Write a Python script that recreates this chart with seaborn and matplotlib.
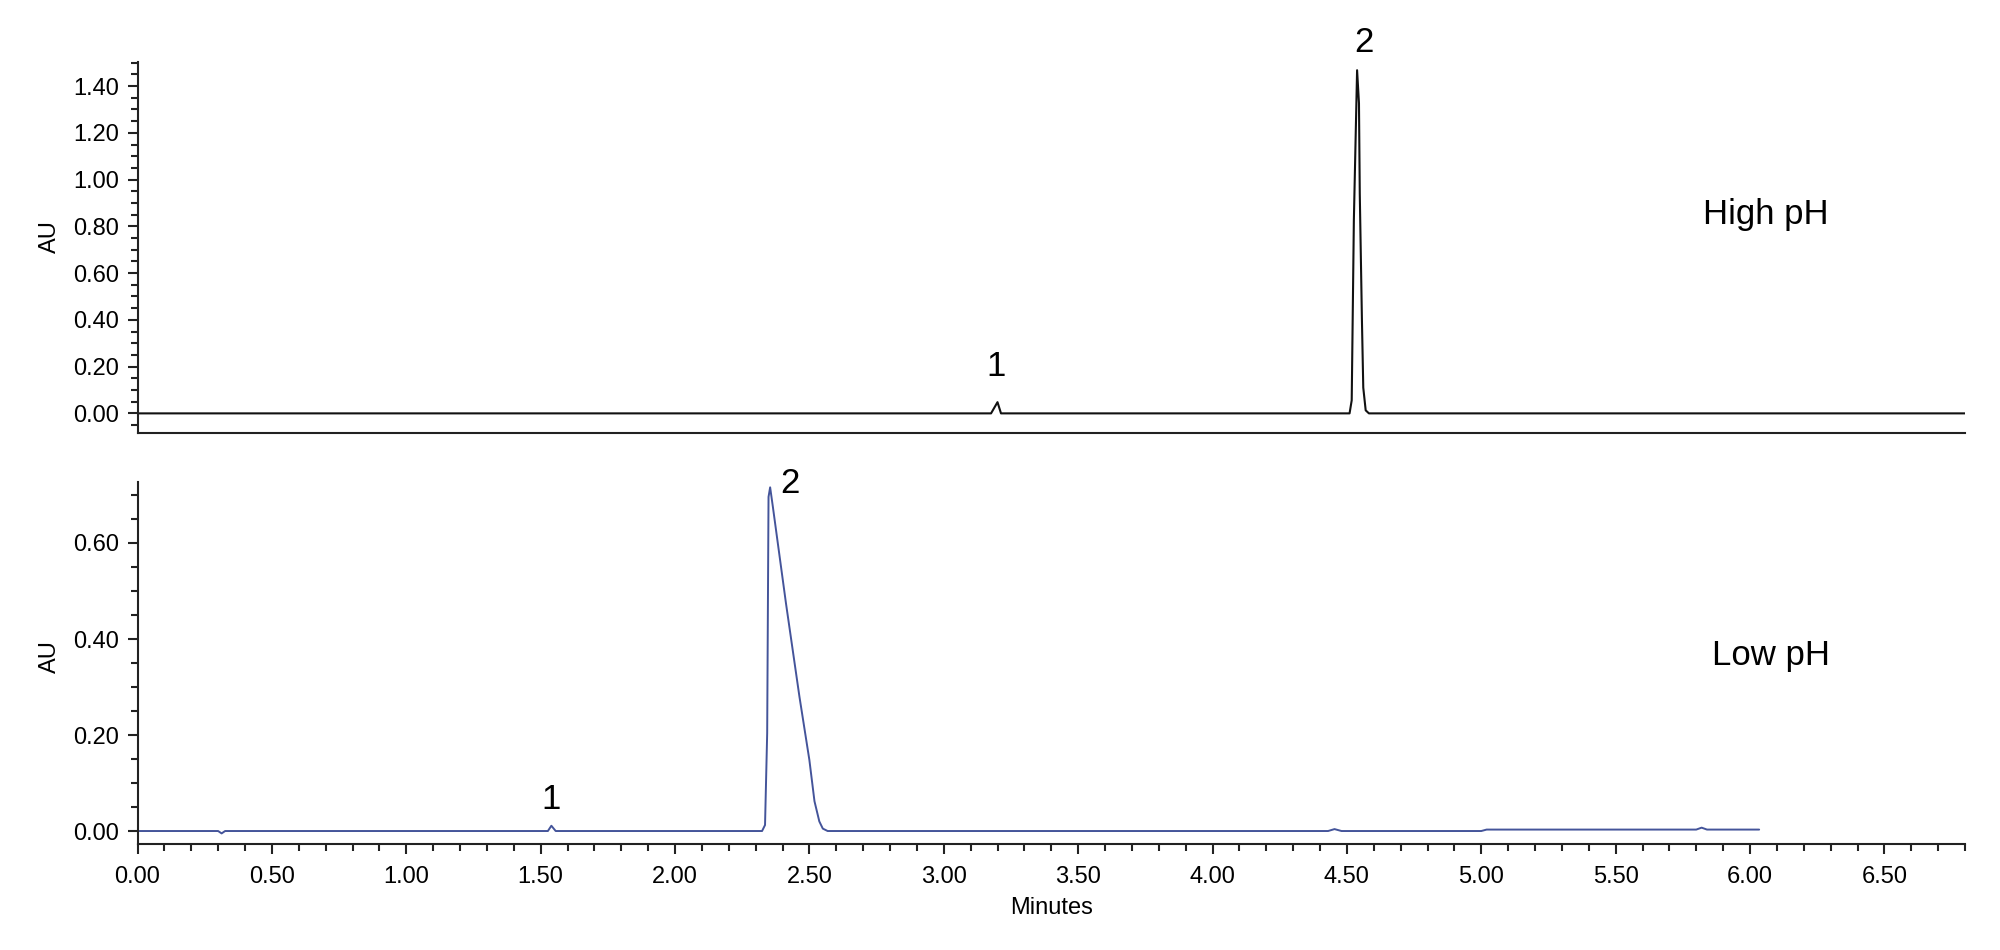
import numpy as np
import pandas as pd
import matplotlib.pyplot as plt
import seaborn as sns
from matplotlib.ticker import MultipleLocator, FormatStrFormatter

sns.set_theme(style="ticks")
plt.rcParams['font.family'] = ['Liberation Sans', 'DejaVu Sans']
plt.rcParams['text.color'] = 'black'
plt.rcParams['axes.labelcolor'] = 'black'
plt.rcParams['xtick.color'] = 'black'
plt.rcParams['ytick.color'] = 'black'

# High pH trace (minutes, AU)
time_high = [0.00, 3.176, 3.200, 3.213, 4.510, 4.518, 4.526, 4.538, 4.545,
             4.548, 4.556, 4.561, 4.570, 4.582, 6.80]
au_high = [0.0, 0.0, 0.048, 0.0, 0.0, 0.056, 0.826, 1.468, 1.327,
           0.94, 0.40, 0.11, 0.013, 0.0, 0.0]

# Low pH trace (minutes, AU)
time_low = [0.00, 0.300, 0.313, 0.326, 1.527, 1.540, 1.556, 2.324, 2.335,
            2.343, 2.348, 2.354, 2.364, 2.413, 2.463, 2.500, 2.519, 2.537,
            2.550, 2.568, 4.430, 4.454, 4.480, 5.000, 5.020, 5.800, 5.820,
            5.840, 6.034]
au_low = [0.0, 0.0, -0.005, 0.0, 0.0, 0.011, 0.0, 0.0, 0.0125,
          0.204, 0.696, 0.716, 0.676, 0.474, 0.280, 0.148, 0.062, 0.020,
          0.005, 0.0, 0.0, 0.004, 0.0, 0.0, 0.003, 0.003, 0.007,
          0.003, 0.003]

peak_names = ["1", "2"]
high_peak_times = [3.20, 4.538]
low_peak_times = [1.54, 2.354]

df_high = pd.DataFrame({"Minutes": time_high, "AU": au_high})
df_low = pd.DataFrame({"Minutes": time_low, "AU": au_low})

fig = plt.figure(figsize=(20, 9.5), dpi=100)
ax1 = fig.add_axes([0.06875, 0.5442, 0.91375, 0.3905])
ax2 = fig.add_axes([0.06875, 0.1116, 0.91375, 0.3810])

sns.lineplot(data=df_high, x="Minutes", y="AU", ax=ax1, color="#111111",
             linewidth=1.5, sort=False, estimator=None)
sns.lineplot(data=df_low, x="Minutes", y="AU", ax=ax2, color="#44549a",
             linewidth=1.4, sort=False, estimator=None)


def label_peaks(ax, df, times, offsets):
    for name, t, off in zip(peak_names, times, offsets):
        i = (df["Minutes"] - t).abs().idxmin()
        ax.annotate(name, (df["Minutes"][i], df["AU"][i]), xytext=off,
                    textcoords="offset points", ha="center", va="center",
                    fontsize=25, color="black")


label_peaks(ax1, df_high, high_peak_times, [(-1, 26), (5, 20)])
label_peaks(ax2, df_low, low_peak_times, [(0, 19), (14, 3)])

ax1.text(0.891, 0.588, "High pH", transform=ax1.transAxes, ha="center",
         va="center", fontsize=25)
ax2.text(0.894, 0.522, "Low pH", transform=ax2.transAxes, ha="center",
         va="center", fontsize=25)

for ax in (ax1, ax2):
    ax.set_xlim(0, 6.80)
    ax.spines["top"].set_visible(False)
    ax.spines["right"].set_visible(False)
    for s in ("left", "bottom"):
        ax.spines[s].set_linewidth(1.5)
        ax.spines[s].set_color("#222222")
    ax.yaxis.set_major_locator(MultipleLocator(0.2))
    ax.yaxis.set_minor_locator(MultipleLocator(0.05))
    ax.yaxis.set_major_formatter(FormatStrFormatter("%.2f"))
    ax.tick_params(axis="both", which="major", length=7.2, width=1.5,
                   labelsize=17, color="#222222", direction="out", pad=6)
    ax.tick_params(axis="both", which="minor", length=4.8, width=1.5,
                   color="#222222", direction="out")
    ax.set_ylabel("AU", fontsize=17)

ax1.set_ylim(-0.084, 1.503)
ax2.set_ylim(-0.027, 0.727)
ax1.yaxis.set_label_coords(-0.042, 0.53)
ax2.yaxis.set_label_coords(-0.042, 0.517)

ax1.set_xlabel("")
ax1.tick_params(axis="x", which="both", bottom=False, labelbottom=False)

ax2.xaxis.set_major_locator(MultipleLocator(0.5))
ax2.xaxis.set_minor_locator(MultipleLocator(0.1))
ax2.xaxis.set_major_formatter(FormatStrFormatter("%.2f"))
ax2.tick_params(axis="x", which="major", pad=9)
ax2.set_xlabel("Minutes", fontsize=17, labelpad=6)

fig.savefig("out.png", dpi=100, facecolor="white")
